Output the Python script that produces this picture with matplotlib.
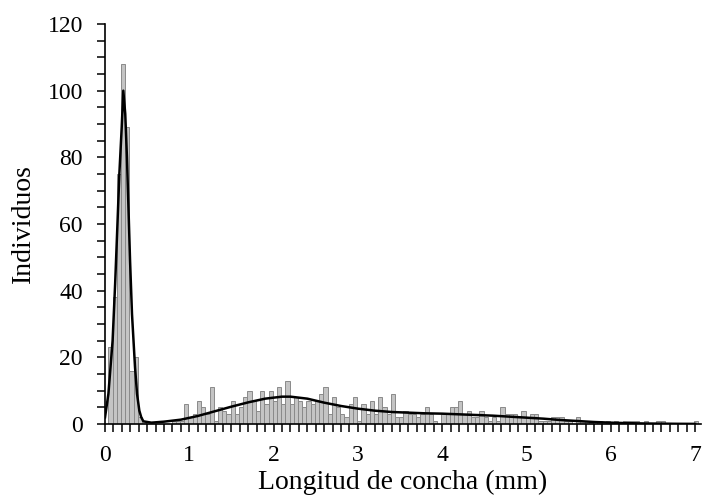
import matplotlib
matplotlib.use('Agg')
import matplotlib.pyplot as plt
import numpy as np

# histogram: counts per 0.05 mm bin, first bin starting at 0.04 mm
bin_start = 0.04
bin_width = 0.05
counts = [23, 38, 75, 108, 89, 16, 20, 2,
          1, 0, 0, 0, 0, 0, 0, 1, 1, 1,
          6, 2, 3, 7, 5, 3, 11, 1, 5, 4, 3, 7, 3, 5, 8, 10, 7, 4, 10, 6,
          10, 7, 11, 6, 13, 6, 8, 7, 5, 7, 6, 7, 9, 11, 3,
          8, 5, 3, 2, 6, 8, 1, 6, 3, 7, 3, 8, 5, 3, 9, 2, 2, 4, 3, 3, 2,
          3, 5, 3, 1, 0, 3, 3, 5, 5, 7, 3, 4, 2, 2, 4, 2, 1, 2, 1, 5, 3,
          3, 3, 2, 4, 2, 3, 3, 1, 1, 1, 2, 2, 2, 1, 1, 0, 2, 1, 1, 1, 0,
          1, 0, 1, 0, 1, 0, 1, 1, 1, 1, 0, 1, 0, 0, 1, 1, 0, 0, 0, 0, 0,
          0, 0, 1]

# fitted curve
curve_x = [0.0, 0.04, 0.09, 0.12, 0.146, 0.17, 0.198, 0.217, 0.24, 0.26,
           0.297, 0.32, 0.356, 0.38, 0.407, 0.43, 0.455, 0.55, 0.7, 0.9,
           1.1, 1.3, 1.5, 1.7, 1.9, 2.1, 2.2, 2.4, 2.6, 2.8, 3.0, 3.2, 3.4,
           3.6, 3.8, 4.0, 4.2, 4.4, 4.6, 4.8, 5.0, 5.2, 5.4, 5.6, 5.8, 6.0,
           6.2, 6.4, 6.6, 6.8, 7.0]
curve_y = [2, 9, 25, 42, 59, 75, 89, 100, 93, 80,
           49, 33, 17, 9, 4, 2, 0.8, 0.4, 0.7, 1.3,
           2.4, 3.8, 5.2, 6.5, 7.6, 8.2, 8.2, 7.6, 6.4, 5.4, 4.6, 4.0, 3.6,
           3.4, 3.2, 3.1, 2.9, 2.7, 2.5, 2.2, 1.9, 1.6, 1.2, 0.9, 0.6, 0.4,
           0.25, 0.15, 0.1, 0.05, 0.03]

plt.rcParams['font.family'] = ['Liberation Serif', 'DejaVu Serif']

fig = plt.figure(figsize=(7.02, 4.97), dpi=100)
ax = fig.add_axes([0.1496, 0.1469, 0.849, 0.8048])

edges = bin_start + bin_width * np.arange(len(counts))
ax.bar(edges, counts, width=bin_width, align='edge',
       color='#c4c4c4', edgecolor='#8a8a8a', linewidth=0.7, zorder=2)
ax.plot(curve_x, curve_y, color='black', linewidth=1.8, zorder=3)

ax.set_xlim(0, 7.07)
ax.set_ylim(0, 120)
ax.set_xticks(np.arange(0, 8, 1))
ax.set_xticks(np.arange(0, 7.05, 0.1), minor=True)
ax.set_yticks(np.arange(0, 121, 20))
ax.set_yticks(np.arange(0, 121, 5), minor=True)
ax.tick_params(which='both', direction='out', length=6, width=1.1,
               labelsize=17, color='black')
ax.tick_params(axis='x', which='both', pad=9)
ax.tick_params(axis='y', which='both', pad=10)

for s in ['top', 'right']:
    ax.spines[s].set_visible(False)
for s in ['left', 'bottom']:
    ax.spines[s].set_linewidth(1.2)

ax.set_xlabel('Longitud de concha (mm)', fontsize=20, labelpad=3)
ax.set_ylabel('Individuos', fontsize=20, labelpad=8)

plt.savefig('out.png', dpi=100)
